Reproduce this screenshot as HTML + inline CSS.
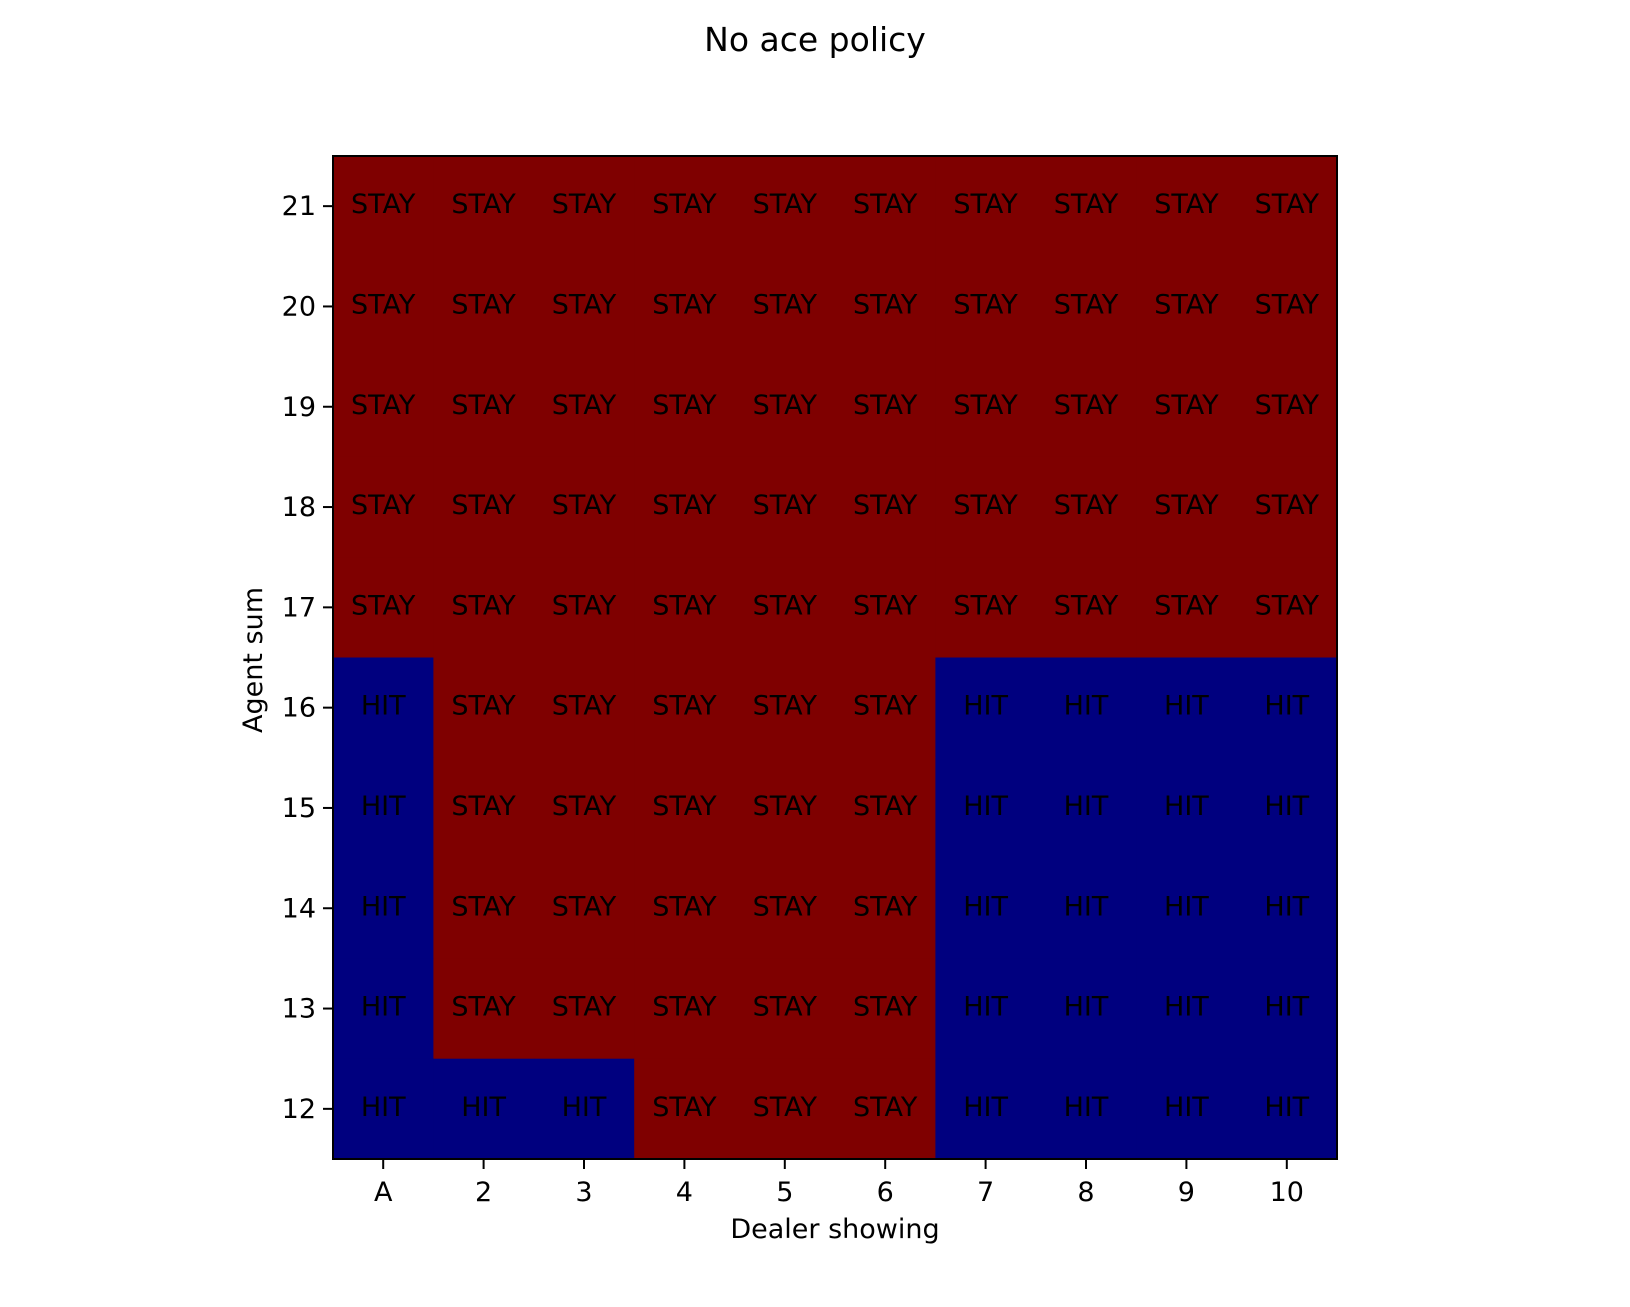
<!DOCTYPE html>
<html><head><meta charset="utf-8"><style>
html,body{margin:0;padding:0;background:#fff;}
svg text{font-family:"DejaVu Sans","Liberation Sans",sans-serif;fill:#000;}
</style></head><body>
<svg id="chart" width="1630" height="1302" xmlns="http://www.w3.org/2000/svg">
<text x="815" y="51" font-size="33" text-anchor="middle">No ace policy</text>
<g id="cells"></g>
<g id="axes"></g>
<text x="835" y="1238" font-size="27" text-anchor="middle">Dealer showing</text>
<text x="0" y="0" font-size="27" text-anchor="middle" transform="translate(262,660) rotate(-90)">Agent sum</text>
</svg>
<script>
const dealerLabels = ["A","2","3","4","5","6","7","8","9","10"];
const agentSums = [21,20,19,18,17,16,15,14,13,12];
// 1 = STAY, 0 = HIT ; rows in order of agentSums
const policy = [
 [1,1,1,1,1,1,1,1,1,1],
 [1,1,1,1,1,1,1,1,1,1],
 [1,1,1,1,1,1,1,1,1,1],
 [1,1,1,1,1,1,1,1,1,1],
 [1,1,1,1,1,1,1,1,1,1],
 [0,1,1,1,1,1,0,0,0,0],
 [0,1,1,1,1,1,0,0,0,0],
 [0,1,1,1,1,1,0,0,0,0],
 [0,1,1,1,1,1,0,0,0,0],
 [0,0,0,1,1,1,0,0,0,0]
];
const actionNames = ["HIT","STAY"];

const NS="http://www.w3.org/2000/svg";
const L=333,R=1337,T=156,B=1159;
const cw=(R-L)/dealerLabels.length, ch=(B-T)/agentSums.length;
const xc=i=>L+(i+0.5)*cw, yc=j=>T+(j+0.5)*ch;
function mk(tag,attrs,parent){const e=document.createElementNS(NS,tag);for(const k in attrs)e.setAttribute(k,attrs[k]);parent.appendChild(e);return e;}
const cells=document.getElementById('cells'), axes=document.getElementById('axes');
policy.forEach((row,j)=>row.forEach((v,i)=>{
  const r=mk('rect',{x:L+i*cw,y:T+j*ch,width:cw+0.6,height:ch+0.6,fill:v?'#7f0000':'#00007f'},cells);
  
  
  const t=mk('text',{x:xc(i),y:yc(j)+7,'font-size':27,'text-anchor':'middle'},cells);
  
  
  t.textContent=actionNames[v];
}));
const fr=mk('rect',{x:L,y:T,width:R-L,height:B-T,fill:'none',stroke:'#000','stroke-width':2},axes);


dealerLabels.forEach((lab,i)=>{
  mk('line',{x1:xc(i),x2:xc(i),y1:B,y2:B+10,stroke:'#000','stroke-width':2},axes);
  const t=mk('text',{x:xc(i),y:B+42,'font-size':27,'text-anchor':'middle'},axes);
  
  
  t.textContent=lab;
});
agentSums.forEach((s,j)=>{
  mk('line',{x1:L-10,x2:L,y1:yc(j),y2:yc(j),stroke:'#000','stroke-width':2},axes);
  const t=mk('text',{x:L-17,y:yc(j)+9,'font-size':27,'text-anchor':'end'},axes);
  
  
  t.textContent=s;
});
</script>
</body></html>
